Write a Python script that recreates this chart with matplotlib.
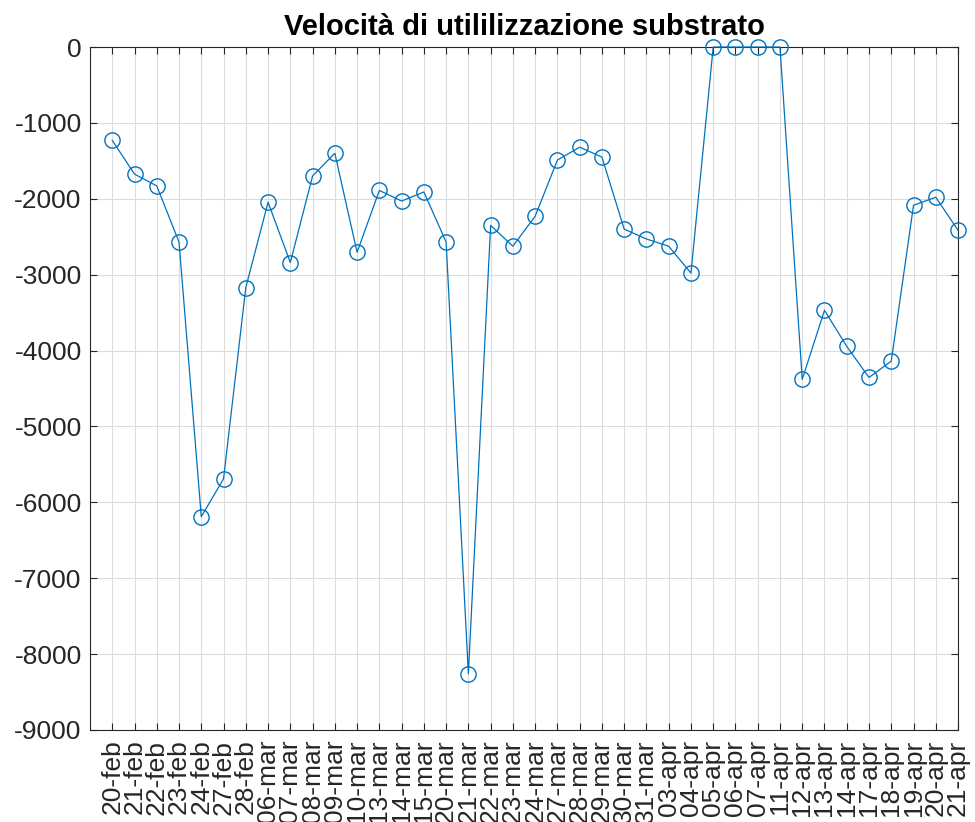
import matplotlib
matplotlib.use('Agg')
import matplotlib.pyplot as plt

# Data
dates = ['20-feb', '21-feb', '22-feb', '23-feb', '24-feb', '27-feb', '28-feb',
         '06-mar', '07-mar', '08-mar', '09-mar', '10-mar', '13-mar', '14-mar',
         '15-mar', '20-mar', '21-mar', '22-mar', '23-mar', '24-mar', '27-mar',
         '28-mar', '29-mar', '30-mar', '31-mar', '03-apr', '04-apr', '05-apr',
         '06-apr', '07-apr', '11-apr', '12-apr', '13-apr', '14-apr', '17-apr',
         '18-apr', '19-apr', '20-apr', '21-apr']
velocita = [-1230, -1675, -1830, -2570, -6190, -5690, -3170,
            -2045, -2840, -1700, -1400, -2705, -1890, -2030,
            -1910, -2570, -8260, -2350, -2625, -2230, -1490,
            -1320, -1450, -2400, -2530, -2625, -2980, 0,
            0, 0, 0, -4380, -3470, -3945, -4355,
            -4140, -2085, -1980, -2415]
y_ticks = list(range(-9000, 1, 1000))

plt.rcParams['font.family'] = ['Liberation Sans', 'DejaVu Sans']

fig = plt.figure(figsize=(9.75, 8.22), dpi=100)
ax = fig.add_axes([0.0923, 0.112, 0.8903, 0.8308])

x = list(range(1, len(dates) + 1))
ax.plot(x, velocita, '-o', color='#0072BD', linewidth=0.9,
        markersize=11, markerfacecolor='none', markeredgewidth=1.0,
        clip_on=False, zorder=3)

ax.set_xlim(0, len(dates))
ax.set_ylim(-9000, 0)
ax.set_xticks(x)
ax.set_xticklabels(dates, rotation=90, fontsize=19, color='#262626')
ax.set_yticks(y_ticks)
ax.set_yticklabels([str(v) for v in y_ticks], fontsize=19, color='#262626')

ax.grid(True, color='#dcdcdc', linewidth=0.8)
ax.set_axisbelow(True)
ax.tick_params(direction='in', top=True, right=True, length=5,
               width=0.8, color='#262626')
ax.tick_params(axis='x', pad=7)
ax.tick_params(axis='y', pad=6)
for s in ax.spines.values():
    s.set_color('#262626')
    s.set_linewidth(0.8)

ax.set_title('Velocità di utililizzazione substrato', fontsize=21,
             fontweight='bold', pad=8.5)

fig.savefig('out.png', dpi=100)
